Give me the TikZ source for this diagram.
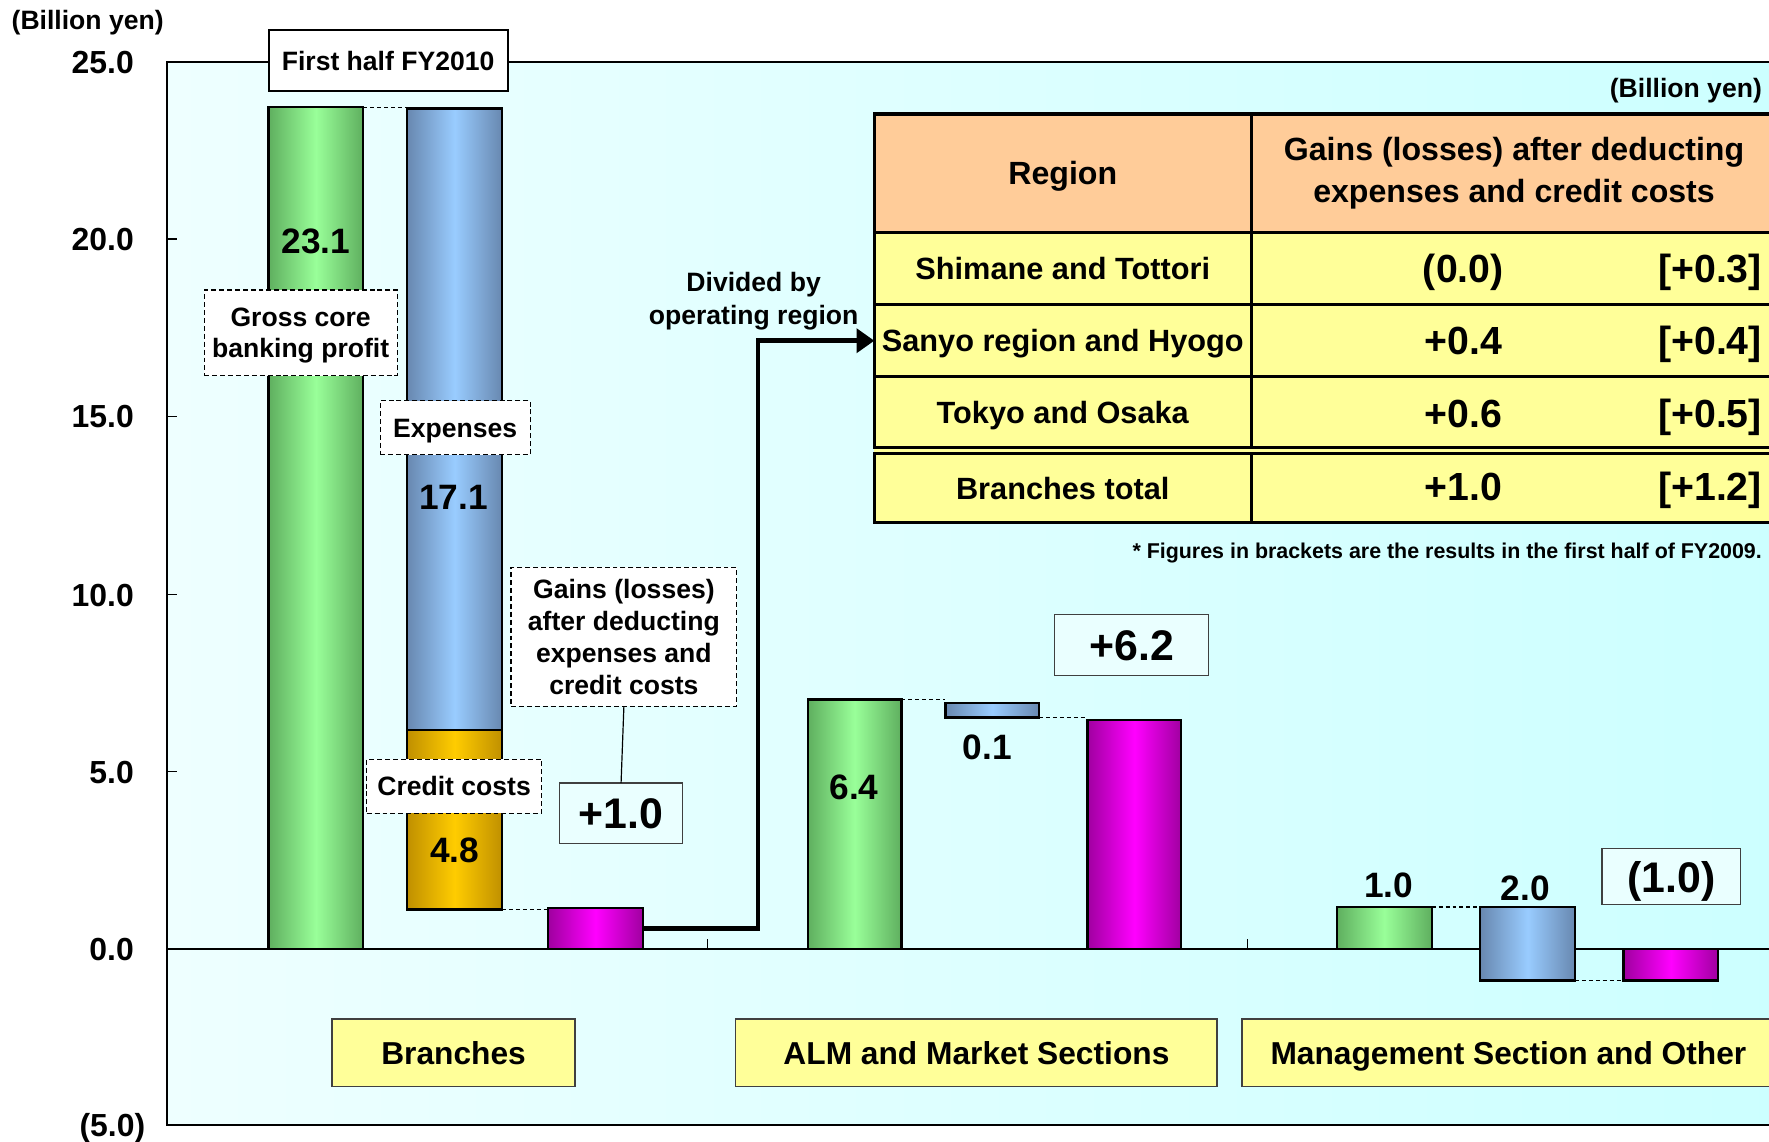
\documentclass[tikz,border=0pt]{standalone}
\usepackage{fontspec}
\setmainfont{Liberation Sans}
\usetikzlibrary{arrows.meta}
\definecolor{gE}{HTML}{5FAF5F}
\definecolor{gC}{HTML}{99FF99}
\definecolor{bE}{HTML}{6888B0}
\definecolor{bC}{HTML}{99CCFF}
\definecolor{yE}{HTML}{C09000}
\definecolor{yC}{HTML}{FFCC00}
\definecolor{mE}{HTML}{A000A0}
\definecolor{mC}{HTML}{FF00FF}
\definecolor{hdrO}{HTML}{FFCC99}
\definecolor{rowY}{HTML}{FFFF99}
\definecolor{bgL}{HTML}{EEFFFF}
\definecolor{bgR}{HTML}{CCFFFF}
\definecolor{boxC}{HTML}{EAFFFF}
\begin{document}
\begin{tikzpicture}[x=0.02cm,y=-0.02cm,
  sz/.style 2 args={minimum width=#1*0.02cm,minimum height=#2*0.02cm,inner sep=0pt,outer sep=0pt},
  capc/.style={text height=#1,text depth=0pt},
  txt/.style={inner sep=0pt,align=center,font=\fontsize{13.4}{16}\selectfont\bfseries},
  valtxt/.style={inner sep=0pt,capc=12.8pt,font=\fontsize{17.8}{20}\selectfont\bfseries},
  bigv/.style={capc=15.6pt,font=\fontsize{21.6}{24}\selectfont\bfseries},
  axl/.style={inner sep=0pt,anchor=east,capc=11.6pt,font=\fontsize{16.1}{18}\selectfont\bfseries},
  catbox/.style={draw=black!75,line width=0.9pt,fill=rowY,capc=11.5pt,font=\fontsize{16}{18}\selectfont\bfseries},
  dbox/.style={draw=black,dash pattern=on 2.5pt off 1.5pt,line width=0.6pt,fill=white,txt},
  vbox/.style={draw=black!75,line width=0.6pt,fill=boxC,bigv},
  barbox/.style={draw=black,line width=1.2pt},
  gbar/.style={barbox,left color=gE,right color=gE,middle color=gC},
  bbar/.style={barbox,left color=bE,right color=bE,middle color=bC},
  ybar/.style={barbox,left color=yE,right color=yE,middle color=yC},
  mbar/.style={barbox,left color=mE,right color=mE,middle color=mC},
  conn/.style={draw=black,dash pattern=on 2pt off 1.5pt,line width=0.6pt},
  tcell/.style={draw=black,line width=1.6pt,font=\fontsize{15.5}{17}\selectfont\bfseries,align=center},
  rowtxt/.style={tcell,fill=rowY,capc=11.2pt},
  tnum/.style={inner sep=0pt,capc=14.3pt,font=\fontsize{19.8}{22}\selectfont\bfseries},
]
\clip (0,0) rectangle (1568,1012);
% plot background and frame
\shade[left color=bgL,right color=bgR] (148,55) rectangle (1580,997);
\draw[line width=1.1pt] (1580,55) -- (148,55) -- (148,997) -- (1580,997);
\draw[line width=0.7pt] (148,841) -- (1580,841);
\foreach \yy in {212,369,527,684} \draw[line width=0.7pt] (148,\yy) -- (157,\yy);
\foreach \xx in {627,1106} \draw[line width=0.6pt] (\xx,841) -- (\xx,832);
% axis labels
\node[txt,anchor=west] (unit) at (10,20) {(Billion yen)};
\node[axl] (y25) at (119,55) {25.0};
\node[axl] (y20) at (119,212) {20.0};
\node[axl] (y15) at (119,369) {15.0};
\node[axl] (y10) at (119,527) {10.0};
\node[axl] (y5) at (119,684) {5.0};
\node[axl] (y0) at (119,841) {0.0};
\node[axl] (ym5) at (129,997) {(5.0)};
% title
\node[draw=black,line width=1pt,fill=white,sz={212}{54},txt,capc=9.6pt] (title) at (344,54) {First half FY2010};
% Branches bars
\node[gbar,sz={84}{746},anchor=south west] (gp) at (238,841) {};
\node[bbar,sz={84}{551},anchor=north west] (bp) at (361,96) {};
\node[ybar,sz={84}{159},anchor=north west] (yc) at (361,647) {};
\node[mbar,sz={84}{36},anchor=south west] (mg) at (486,841) {};
\draw[conn] (gp.north east) -- (gp.north east -| bp.west);
\draw[conn] (yc.south east) -- (yc.south east -| mg.west);
\node[valtxt] (v231) at (280,213) {23.1};
\node[valtxt] (v171) at (402,440) {17.1};
\node[valtxt] (v48) at (403,753) {4.8};
\node[dbox,sz={171}{76},text depth=0pt] (gcb) at (266.5,295) {Gross core\\banking profit};
\node[dbox,sz={133}{48},capc=9.6pt] (exl) at (403.5,379) {Expenses};
\node[dbox,sz={155}{48},capc=9.6pt] (ccl) at (402.5,697) {Credit costs};
\node[dbox,sz={200}{123},font=\fontsize{13.4}{16.2}\selectfont\bfseries] (gll) at (553,564.5) {Gains (losses)\\after deducting\\expenses and\\credit costs};
\node[vbox,sz={109}{54}] (p1) at (550.5,721) {+1.0};
\draw[line width=0.6pt] (gll.south) -- (p1.north);
% ALM bars
\node[gbar,sz={83}{221},anchor=south west] (g2) at (716,841) {};
\node[bbar,sz={83}{13},anchor=north west] (b2) at (838,623) {};
\node[mbar,sz={83}{203},anchor=south west] (m2) at (964,841) {};
\draw[conn] (g2.north east) -- (g2.north east -| b2.west);
\draw[conn] (b2.south east) -- (b2.south east -| m2.west);
\node[valtxt] (v64) at (757,697) {6.4};
\node[valtxt] (v01) at (875,662) {0.1};
\node[vbox,sz={136}{54}] (p62) at (1003,572) {+6.2};
% Management bars
\node[gbar,sz={84}{37},anchor=south west] (g3) at (1185,841) {};
\node[bbar,sz={84}{65},anchor=north west] (b3) at (1312,804) {};
\node[mbar,sz={84}{28},anchor=north west] (m3) at (1439,841) {};
\draw[conn] (g3.north east) -- (g3.north east -| b3.west);
\draw[conn] (b3.south east) -- (b3.south east -| m3.west);
\node[valtxt] (v10) at (1231,784) {1.0};
\node[valtxt] (v20) at (1352,787) {2.0};
\node[vbox,sz={123}{50}] (m10) at (1481.5,777) {(1.0)};
% category labels
\node[catbox,sz={216}{60}] (cB) at (402,933) {Branches};
\node[catbox,sz={427}{60}] (cA) at (865.5,933) {ALM and Market Sections};
\node[catbox,sz={472}{60}] (cM) at (1337,933) {Management Section and Other};
% table
\node[txt,anchor=east] (tunit) at (1562,80) {(Billion yen)};
\fill[rowY] (775,206) rectangle (1575,463);
\node[tcell,fill=hdrO,sz={334}{105},anchor=north west,capc=11.7pt,font=\fontsize{16.2}{19}\selectfont\bfseries] (hA) at (775,101) {Region};
\node[tcell,fill=hdrO,sz={466}{105},anchor=north west,font=\fontsize{16.2}{21.6}\selectfont\bfseries] (hB) at (1109,101) {Gains (losses) after deducting\\expenses and credit costs};
\node[rowtxt,sz={334}{64},anchor=north west] (r1a) at (775,206) {Shimane and Tottori};
\node[rowtxt,sz={466}{64},anchor=north west] (r1b) at (1109,206) {};
\node[rowtxt,sz={334}{64},anchor=north west] (r2a) at (775,270) {Sanyo region and Hyogo};
\node[rowtxt,sz={466}{64},anchor=north west] (r2b) at (1109,270) {};
\node[rowtxt,sz={334}{63},anchor=north west] (r3a) at (775,334) {Tokyo and Osaka};
\node[rowtxt,sz={466}{63},anchor=north west] (r3b) at (1109,334) {};
\node[rowtxt,sz={334}{61},anchor=north west] (r4a) at (775,402) {Branches total};
\node[rowtxt,sz={466}{61},anchor=north west] (r4b) at (1109,402) {};
\node[tnum] (n1) at (1297,238) {(0.0)};
\node[tnum,anchor=east] (o1) at (1562,238) {[+0.3]};
\node[tnum] (n2) at (1297,302) {+0.4};
\node[tnum,anchor=east] (o2) at (1562,302) {[+0.4]};
\node[tnum] (n3) at (1297,366) {+0.6};
\node[tnum,anchor=east] (o3) at (1562,366) {[+0.5]};
\node[tnum] (n4) at (1297,431) {+1.0};
\node[tnum,anchor=east] (o4) at (1562,431) {[+1.2]};
\node[inner sep=0pt,anchor=east,font=\fontsize{10.8}{12}\selectfont\bfseries] (note) at (1562,490) {* Figures in brackets are the results in the first half of FY2009.};
% arrow
\node[txt,font=\fontsize{13.4}{16.5}\selectfont\bfseries] (divl) at (668,267) {Divided by\\operating region};
\coordinate (bend) at (672,823);
\draw[line width=2.3pt,-{Triangle[length=9pt,width=12pt]}] (mg.east) -- (bend) |- (r2a.west);
\end{tikzpicture}
\end{document}
